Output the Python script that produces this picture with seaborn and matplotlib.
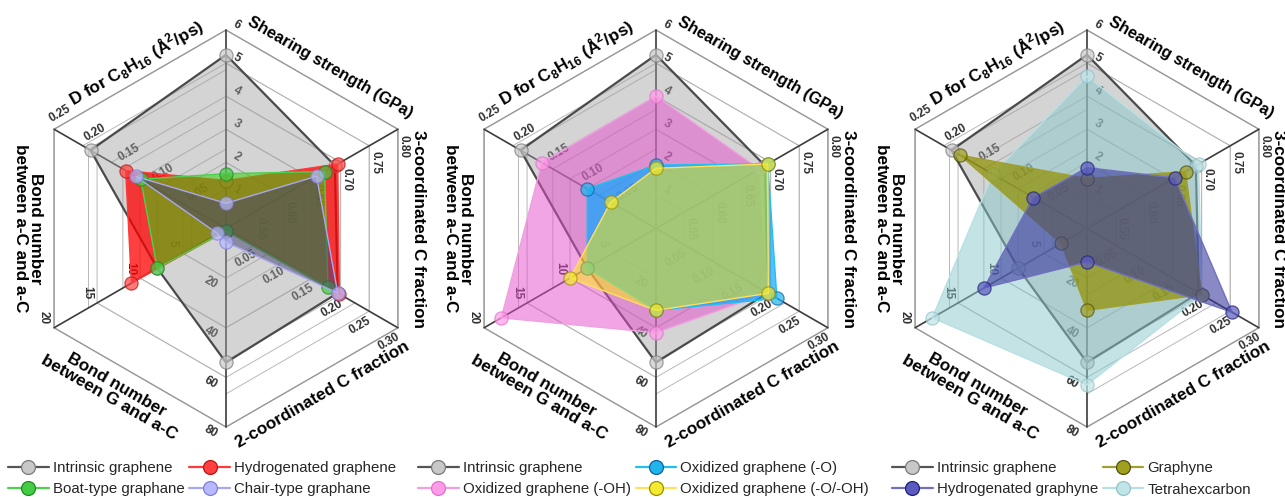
import numpy as np
import matplotlib
matplotlib.use("Agg")
import matplotlib.pyplot as plt
from matplotlib.lines import Line2D
import seaborn as sns

sns.set_theme(style="white")
plt.rcParams["font.family"] = ["Liberation Sans", "DejaVu Sans"]
plt.rcParams["mathtext.fontset"] = "custom"
plt.rcParams["mathtext.rm"] = "Liberation Sans"
plt.rcParams["mathtext.bf"] = "Liberation Sans:bold"

# ---- radar axes, clockwise from the top ----
axis_titles = [
    "Shearing strength (GPa)",
    "3-coordinated C fraction",
    "2-coordinated C fraction",
    "Bond number\nbetween G and a-C",
    "Bond number\nbetween a-C and a-C",
    r"D for C$_\mathbf{8}$H$_\mathbf{16}$ (Å$^\mathbf{2}$/ps)",
]
axis_low = [0, 0.50, 0, 0, 0, 0]
axis_high = [6, 0.80, 0.30, 80, 20, 0.25]
shear_ticks = ["1", "2", "3", "4", "5", "6"]
coord3_ticks = ["0.55", "0.60", "0.65", "0.70", "0.75", "0.80"]
coord2_ticks = ["0.05", "0.10", "0.15", "0.20", "0.25", "0.30"]
bond_g_ticks = ["20", "40", "60", "80"]
bond_ac_ticks = ["5", "10", "15", "20"]
diff_ticks = ["0.05", "0.10", "0.15", "0.20", "0.25"]
axis_ticks = [shear_ticks, coord3_ticks, coord2_ticks, bond_g_ticks, bond_ac_ticks, diff_ticks]

# ---- series values: shear, 3-coord, 2-coord, bonds G/a-C, bonds a-C/a-C, D ----
intrinsic_graphene = [5.25, 0.690, 0.195, 54, 8, 0.197]
hydrogenated_graphene = [1.45, 0.695, 0.198, 1, 11, 0.146]
boat_graphane = [1.66, 0.672, 0.178, 1, 8, 0.124]
chair_graphane = [0.76, 0.658, 0.195, 5.5, 1, 0.131]
oxidized_oh = [4.0, 0.680, 0.195, 42, 18, 0.166]
oxidized_o = [1.92, 0.695, 0.211, 33, 8, 0.100]
oxidized_o_oh = [1.82, 0.695, 0.196, 33, 10, 0.066]
graphyne = [1.51, 0.672, 0.200, 33, 3, 0.185]
hydrogenated_graphyne = [1.84, 0.653, 0.253, 13.5, 12, 0.078]
tetrahexcarbon = [4.6, 0.695, 0.200, 63, 18, 0.137]

# fill colour, fill alpha, line colour, line width, marker face, marker edge
styles = {
    "Intrinsic graphene": ("#a0a0a0", 0.45, "#4a4a4a", 1.6, "#c8c8c8", "#7a7a7a"),
    "Hydrogenated graphene": ("#ff0000", 0.75, "#ff3a3a", 1.0, "#ff4040", "#c01010"),
    "Boat-type graphane": ("#35d10a", 0.55, "#4ed04e", 1.0, "#44cc44", "#208a20"),
    "Chair-type graphane": ("#404070", 0.50, "#a8a8f0", 1.0, "#b8b8ff", "#8080d8"),
    "Oxidized graphene (-OH)": ("#e64dcc", 0.50, "#f0a0e0", 1.0, "#ff9ce8", "#e070d0"),
    "Oxidized graphene (-O)": ("#0aa6ff", 0.70, "#20c0f0", 1.0, "#20b4ec", "#1060a0"),
    "Oxidized graphene (-O/-OH)": ("#ffee00", 0.50, "#ffe060", 1.0, "#f4ea30", "#9a9000"),
    "Graphyne": ("#909000", 0.72, "#a0a030", 1.0, "#a0a020", "#505010"),
    "Hydrogenated graphyne": ("#3a3aa0", 0.60, "#7070c0", 1.0, "#5a5ac0", "#202070"),
    "Tetrahexcarbon": ("#88c8cc", 0.50, "#b8e0e4", 1.0, "#c0e4e8", "#90c4c8"),
}

panels = [
    (["Intrinsic graphene", "Hydrogenated graphene", "Boat-type graphane", "Chair-type graphane"],
     [intrinsic_graphene, hydrogenated_graphene, boat_graphane, chair_graphane],
     ["Intrinsic graphene", "Boat-type graphane", "Hydrogenated graphene", "Chair-type graphane"]),
    (["Intrinsic graphene", "Oxidized graphene (-OH)", "Oxidized graphene (-O)", "Oxidized graphene (-O/-OH)"],
     [intrinsic_graphene, oxidized_oh, oxidized_o, oxidized_o_oh],
     ["Intrinsic graphene", "Oxidized graphene (-OH)", "Oxidized graphene (-O)", "Oxidized graphene (-O/-OH)"]),
    (["Intrinsic graphene", "Tetrahexcarbon", "Graphyne", "Hydrogenated graphyne"],
     [intrinsic_graphene, tetrahexcarbon, graphyne, hydrogenated_graphyne],
     ["Intrinsic graphene", "Hydrogenated graphyne", "Graphyne", "Tetrahexcarbon"]),
]

W, H = 1285, 497
R = 198.5          # hexagon radius, px
S = 215            # half-size of each panel's axes, px
centers_x = [226, 656, 1087]
center_y = 228.5   # from the top edge
legend_x = [8, 418, 892]

# tick-label and title placement (px: right, down) and rotation for each axis
tick_off = [(11, -5), (6, 17), (-9, 14), (-15, 5), (-10, -10), (6, -16)]
tick_rot = [-30, -90, 30, -30, -90, 30]
title_pos = [(104, -161), (192, 0), (96, 166), (-113, 163), (-198, 0), (-90, -166)]
title_rot = [-30, -90, 30, -30, -90, 30]
title_size = [11.8, 12.3, 12.3, 12.3, 12.3, 12.3]

angles = np.radians(90 - 60 * np.arange(6))


def to_xy(k, frac):
    return frac * np.cos(angles[k]), frac * np.sin(angles[k])


def px(dx, dy):
    return dx / R, -dy / R


def fractions(values):
    return [(v - lo) / (hi - lo) for v, lo, hi in zip(values, axis_low, axis_high)]


fig = plt.figure(figsize=(W / 100, H / 100), dpi=100)

for p, (order, data, legend_order) in enumerate(panels):
    cx = centers_x[p]
    ax = fig.add_axes([(cx - S) / W, (H - center_y - S) / H, 2 * S / W, 2 * S / H])
    ax.set_xlim(-S / R, S / R)
    ax.set_ylim(-S / R, S / R)
    ax.axis("off")

    # grid: for every tick of an axis, a chevron to the neighbouring spokes
    for k, labels in enumerate(axis_ticks):
        lo, hi = axis_low[k], axis_high[k]
        for lab in labels:
            f = (float(lab) - lo) / (hi - lo)
            pts = [to_xy((k - 1) % 6, f), to_xy(k, f), to_xy((k + 1) % 6, f)]
            ax.plot([q[0] for q in pts], [q[1] for q in pts], color="#b8b8b8", lw=0.7, zorder=1)
    hexagon = [to_xy(k % 6, 1.0) for k in range(7)]
    ax.plot([q[0] for q in hexagon], [q[1] for q in hexagon], color="#9a9a9a", lw=0.9, zorder=1)
    for k in range(6):
        x1, y1 = to_xy(k, 1.0)
        ax.plot([0, x1], [0, y1], color="#3c3c3c", lw=1.2, zorder=2)

    # tick labels
    for k, labels in enumerate(axis_ticks):
        lo, hi = axis_low[k], axis_high[k]
        for lab in labels:
            f = (float(lab) - lo) / (hi - lo)
            x, y = to_xy(k, f)
            ox, oy = px(*tick_off[k])
            ax.text(x + ox, y + oy, lab, rotation=tick_rot[k], ha="center", va="center",
                    fontsize=8.5, fontweight="bold", color="#303030", zorder=2,
                    rotation_mode="anchor")

    # axis titles
    for k, title in enumerate(axis_titles):
        tx, ty = px(*title_pos[k])
        ax.text(tx, ty, title, rotation=title_rot[k], ha="center", va="center",
                multialignment="center", fontsize=title_size[k], fontweight="bold",
                color="black", rotation_mode="anchor", linespacing=1.0)

    # series, each drawn as fill, outline and markers in turn
    for i, (name, vals) in enumerate(zip(order, data)):
        fr = fractions(vals)
        xs = [to_xy(k, fr[k])[0] for k in range(6)]
        ys = [to_xy(k, fr[k])[1] for k in range(6)]
        fc, fa, lc, lw, mf, me = styles[name]
        z = 3 + i
        ax.fill(xs, ys, color=fc, alpha=fa, lw=0, zorder=z)
        sns.lineplot(x=xs + xs[:1], y=ys + ys[:1], sort=False, estimator=None, ax=ax,
                     color=lc, lw=lw, zorder=z + 0.3, legend=False)
        sns.scatterplot(x=xs, y=ys, ax=ax, s=90, color=mf, edgecolor=me, linewidth=0.9,
                        alpha=0.7, zorder=z + 0.6, legend=False)

    # legend
    handles = []
    for name in legend_order:
        st = styles[name]
        handles.append(Line2D([], [], color=st[2] if name != "Intrinsic graphene" else "#555555",
                              lw=1.6, marker="o", markersize=10, markerfacecolor=st[4],
                              markeredgecolor=st[5], markeredgewidth=0.9, label=name))
    fig.legend(handles=handles, loc="upper left", ncol=2, frameon=False,
               bbox_to_anchor=(legend_x[p] / W, 1 - 461 / H), bbox_transform=fig.transFigure,
               fontsize=10.8, handlelength=2.7, handletextpad=0.3, columnspacing=0.3,
               labelspacing=0.5, borderpad=0, borderaxespad=0, numpoints=1)

fig.savefig("out.png", dpi=100)
